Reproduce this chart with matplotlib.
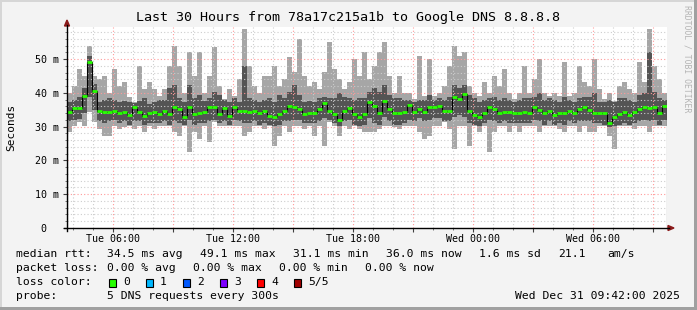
import numpy as np
import pandas as pd
import matplotlib
matplotlib.use('Agg')
import matplotlib.pyplot as plt
import matplotlib.dates as mdates
from matplotlib.patches import Rectangle, Polygon
from matplotlib.lines import Line2D

# 15 minute bins, Tue Dec 30 03:42 -> Wed Dec 31 09:42 (ms)
median = [34.4, 35.4, 35.4, 39.2, 49.1, 40.6, 34.7, 34.2, 34.4, 34.7,
          34.0, 34.4, 33.4, 35.7, 34.2, 33.2, 34.0, 34.2, 33.7, 34.7,
          33.7, 35.7, 35.2, 32.8, 35.7, 33.7, 34.0, 34.2, 35.7, 35.7,
          33.7, 35.4, 33.2, 35.7, 34.7, 34.7, 34.2, 34.7, 34.0, 34.7,
          33.2, 32.8, 33.7, 34.7, 36.2, 35.7, 35.2, 33.7, 34.0, 34.0,
          35.2, 37.0, 34.7, 33.7, 32.1, 34.7, 35.4, 33.7, 32.8, 33.7,
          37.4, 36.2, 34.0, 37.7, 35.2, 34.0, 34.0, 34.4, 36.4, 34.2,
          35.2, 34.4, 35.7, 35.7, 36.0, 34.7, 34.7, 38.7, 38.2, 39.6,
          34.7, 33.4, 32.8, 34.0, 35.7, 35.2, 34.0, 34.4, 34.2, 34.0,
          34.0, 34.4, 34.0, 35.7, 35.0, 34.0, 34.7, 33.4, 34.0, 34.0,
          34.7, 34.0, 35.2, 35.7, 35.0, 34.0, 34.0, 34.0, 31.1, 32.8,
          33.7, 34.2, 33.4, 34.4, 35.2, 35.7, 35.4, 35.7, 34.0, 36.0]

smoke_max = [40.1, 42.1, 47.0, 45.1, 54.0, 45.1, 44.1, 45.1, 40.1, 47.0,
             42.1, 43.1, 38.7, 37.2, 48.0, 41.1, 43.1, 41.1, 39.2, 41.1,
             48.0, 54.0, 48.0, 40.1, 52.0, 45.1, 52.0, 40.1, 45.1, 53.5,
             42.1, 38.2, 41.1, 39.2, 44.1, 58.9, 48.0, 42.1, 40.1, 45.1,
             45.1, 48.0, 42.1, 44.1, 50.5, 46.1, 55.9, 45.1, 42.1, 43.1,
             41.1, 46.1, 55.0, 47.0, 44.1, 41.1, 43.1, 50.0, 45.1, 52.0,
             44.1, 48.0, 52.0, 55.0, 45.1, 40.1, 45.1, 40.1, 40.1, 38.2,
             51.0, 39.2, 50.0, 39.2, 40.1, 42.1, 48.0, 54.0, 51.0, 52.0,
             42.1, 40.1, 39.2, 43.1, 40.1, 45.1, 42.1, 47.0, 40.1, 38.2,
             40.1, 48.0, 40.1, 44.1, 50.0, 40.1, 39.2, 40.1, 39.2, 49.0,
             39.2, 40.1, 48.0, 43.1, 42.1, 50.0, 41.1, 38.2, 40.1, 37.5,
             42.1, 43.1, 41.1, 40.1, 49.0, 43.1, 58.9, 48.0, 44.1, 40.1]

smoke_hi = [37.4, 37.9, 38.9, 41.3, 51.0, 42.5, 37.4, 37.9, 38.4, 37.9,
            37.4, 37.6, 37.2, 37.0, 37.6, 38.4, 36.6, 37.4, 37.9, 38.0,
            41.3, 42.3, 38.4, 37.2, 42.3, 38.4, 39.4, 37.5, 38.4, 40.4,
            39.4, 37.9, 37.4, 38.4, 37.4, 48.0, 38.4, 37.9, 37.4, 37.9,
            38.4, 37.4, 39.4, 38.4, 40.4, 42.3, 39.4, 37.4, 37.5, 37.4,
            38.4, 38.9, 38.4, 38.4, 39.9, 38.9, 38.4, 37.9, 38.4, 38.4,
            40.4, 41.3, 40.4, 42.3, 39.4, 38.4, 38.4, 37.9, 37.9, 37.4,
            37.9, 37.9, 39.4, 37.9, 38.4, 37.9, 38.9, 42.3, 41.3, 42.3,
            39.4, 38.4, 37.4, 37.9, 38.4, 38.9, 37.9, 38.4, 37.9, 37.4,
            37.9, 38.4, 38.4, 38.9, 39.9, 37.9, 38.4, 37.9, 37.4, 38.9,
            37.9, 37.4, 38.4, 38.9, 38.9, 39.9, 37.4, 37.4, 37.9, 37.4,
            38.4, 38.4, 37.9, 37.4, 39.4, 39.9, 52.0, 40.4, 38.4, 37.9]

smoke_lo = [31.6, 32.0, 32.2, 34.0, 38.9, 35.0, 31.6, 31.1, 31.6, 32.0,
            31.1, 31.6, 30.6, 31.6, 31.6, 30.6, 31.1, 31.1, 31.1, 31.6,
            30.6, 31.6, 31.1, 30.6, 32.0, 30.6, 31.1, 31.1, 31.6, 32.0,
            31.1, 31.6, 30.6, 32.0, 31.6, 31.1, 31.1, 31.6, 30.6, 31.1,
            30.6, 30.1, 30.6, 31.6, 31.6, 32.0, 32.0, 31.1, 31.1, 31.1,
            31.6, 32.5, 32.0, 31.1, 30.1, 31.6, 32.0, 30.6, 30.1, 30.6,
            32.5, 31.1, 30.6, 33.0, 31.6, 30.6, 30.6, 31.1, 32.0, 31.6,
            32.5, 31.6, 32.0, 32.5, 32.5, 31.6, 31.6, 33.0, 33.5, 33.0,
            31.1, 30.6, 30.1, 31.1, 32.0, 31.6, 31.1, 31.6, 31.1, 31.1,
            31.1, 31.1, 31.1, 32.0, 31.6, 30.6, 31.6, 30.6, 31.1, 30.6,
            31.6, 31.1, 31.6, 31.6, 31.6, 31.1, 31.1, 30.6, 29.8, 30.1,
            30.6, 31.1, 30.6, 31.1, 31.6, 32.0, 31.6, 32.0, 30.6, 32.0]

smoke_min = [28.3, 30.3, 31.3, 30.3, 34.2, 31.3, 29.3, 27.3, 27.3, 30.3,
             29.3, 29.8, 30.3, 29.3, 30.3, 28.3, 30.3, 29.3, 30.3, 30.3,
             30.3, 28.3, 27.3, 30.3, 22.4, 28.3, 26.4, 30.3, 25.4, 31.3,
             30.3, 30.3, 30.3, 30.3, 30.3, 27.3, 28.3, 30.3, 30.3, 29.3,
             30.3, 24.4, 27.3, 30.3, 28.3, 30.3, 30.3, 29.3, 30.3, 27.3,
             30.3, 24.4, 31.3, 30.3, 27.3, 30.3, 29.3, 30.3, 29.3, 28.3,
             28.3, 28.3, 29.3, 30.3, 30.3, 29.8, 29.3, 30.3, 30.3, 30.3,
             28.3, 26.4, 27.3, 30.3, 30.3, 31.3, 29.3, 23.4, 30.3, 30.3,
             24.4, 30.3, 28.3, 30.3, 22.4, 28.3, 30.3, 30.3, 28.3, 30.3,
             28.3, 30.3, 30.3, 30.3, 28.3, 30.3, 30.3, 30.3, 29.3, 28.3,
             30.3, 30.3, 28.3, 30.3, 28.3, 28.3, 30.3, 30.3, 27.3, 23.4,
             30.3, 30.3, 30.3, 29.3, 30.3, 30.3, 28.3, 30.3, 30.3, 30.3]

y_ticks = [0, 10, 20, 30, 40, 50]
y_labels = ['0  ', '10 m', '20 m', '30 m', '40 m', '50 m']
x_labels = ['Tue 06:00', '', 'Tue 12:00', '', 'Tue 18:00', '',
            'Wed 00:00', '', 'Wed 06:00', '']
loss_labels = ['0', '1', '2', '3', '4', '5/5']
loss_colors = ['#26ff00', '#00b8ff', '#0059ff', '#7e00ff', '#ff0000', '#a00000']

W, H = 697, 310
MONO = 'DejaVu Sans Mono'


def fx(x):
    return x / W


def fy(y):
    return 1 - y / H


fig = plt.figure(figsize=(W / 100, H / 100), dpi=100, facecolor='#f3f3f3')
ax = fig.add_axes([fx(67), fy(228), 600 / W, 201 / H])
ax.set_facecolor('white')

t = pd.date_range('2025-12-30 03:42', periods=len(median), freq='15min')
step = pd.Timedelta(minutes=15)
bw = 15 / 1440
smax, smin = np.array(smoke_max), np.array(smoke_min)
shi, slo = np.array(smoke_hi), np.array(smoke_lo)
med = np.array(median)

ax.bar(t, smax - smin, bottom=smin, width=bw, align='edge',
       color='#a6a6a6', linewidth=0, zorder=1)
ax.bar(t, shi - slo, bottom=slo, width=bw, align='edge',
       color='#545454', linewidth=0, zorder=1.1)
edges = mdates.date2num(list(t) + [t[-1] + step])
ax.stairs(med, edges, color='black', lw=0.8, zorder=3)
ax.hlines(med, t, t + step, color=loss_colors[0], lw=2.0, zorder=3.5)

ax.set_xlim(t[0], t[-1] + step)
ax.set_ylim(0, 59.5)

major_x = pd.date_range('2025-12-30 06:00', periods=len(x_labels), freq='3h')
ax.set_xticks(major_x)
ax.set_xticklabels(x_labels)
ax.set_xticks(pd.date_range('2025-12-30 04:00', '2025-12-31 09:00', freq='1h'),
              minor=True)
ax.set_yticks(y_ticks)
ax.set_yticklabels(y_labels)
ax.set_yticks(np.arange(0, 59, 2), minor=True)

ax.set_axisbelow(False)
ax.grid(which='major', color='#ff9a9a', linestyle=(0, (1, 2)), lw=0.8)
ax.grid(which='minor', color='#cdcdcd', linestyle=(0, (1, 2)), lw=0.8)
for s in ax.spines.values():
    s.set_visible(False)
ax.tick_params(which='major', length=3, width=0.8, color='#404040',
               labelsize=7.2, pad=3)
ax.tick_params(axis='x', which='major', pad=1)
ax.tick_params(which='minor', length=1.5, width=0.6, color='#606060')
for lab in ax.get_xticklabels() + ax.get_yticklabels():
    lab.set_family(MONO)

# axes lines and arrows
fig.add_artist(Line2D([fx(67), fx(67)], [fy(231), fy(25)], color='black', lw=1))
fig.add_artist(Line2D([fx(64), fx(669)], [fy(228), fy(228)], color='black', lw=1))
fig.add_artist(Polygon([[fx(64.5), fy(26)], [fx(69.5), fy(26)], [fx(67), fy(20)]],
                       closed=True, color='#8b1a1a', transform=fig.transFigure))
fig.add_artist(Polygon([[fx(668), fy(225.5)], [fx(668), fy(230.5)], [fx(674), fy(228)]],
                       closed=True, color='#8b1a1a', transform=fig.transFigure))

fig.text(fx(348), fy(18), 'Last 30 Hours from 78a17c215a1b to Google DNS 8.8.8.8',
         ha='center', va='center', fontsize=9.6, family=MONO)
fig.text(fx(11), fy(127), 'Seconds', rotation=90, ha='center', va='center',
         fontsize=8, family=MONO)
fig.text(fx(687), fy(59), 'RRDTOOL / TOBI OETIKER', rotation=270, ha='center',
         va='center', fontsize=5.9, family=MONO, color='#b4b4b4')

LF = 8.2
rows = [
    (254, [(16, 'median rtt:'), (107, '34.5 ms avg'), (200, '49.1 ms max'),
           (293, '31.1 ms min'), (386, '36.0 ms now'), (479, '1.6 ms sd'),
           (558, '21.1'), (607, 'am/s')]),
    (268, [(16, 'packet loss:'), (107, '0.00 % avg'), (193, '0.00 % max'),
           (279, '0.00 % min'), (365, '0.00 % now')]),
    (282, [(16, 'loss color:')]),
    (296, [(16, 'probe:'), (107, '5 DNS requests every 300s')]),
]
for y, items in rows:
    for x, s in items:
        fig.text(fx(x), fy(y), s, ha='left', va='center', fontsize=LF, family=MONO)
fig.text(fx(680), fy(296), 'Wed Dec 31 09:42:00 2025', ha='right', va='center',
         fontsize=LF, family=MONO)

for k, (lab, col) in enumerate(zip(loss_labels, loss_colors)):
    bx = 109 + 37 * k
    fig.add_artist(Rectangle((fx(bx), fy(287)), 7 / W, 8 / H, facecolor=col,
                             edgecolor='black', lw=0.8, transform=fig.transFigure))
    fig.text(fx(bx + 14), fy(282), lab, ha='left', va='center', fontsize=LF,
             family=MONO)

# 3d border
fig.add_artist(Rectangle((0, fy(2)), 1, 2 / H, color='#d6d6d6', lw=0,
                         transform=fig.transFigure))
fig.add_artist(Rectangle((0, 0), 2 / W, 1, color='#d6d6d6', lw=0,
                         transform=fig.transFigure))
fig.add_artist(Rectangle((0, 0), 1, 3 / H, color='#a0a0a0', lw=0,
                         transform=fig.transFigure))
fig.add_artist(Rectangle((fx(694), 0), 3 / W, 1, color='#a0a0a0', lw=0,
                         transform=fig.transFigure))

fig.savefig('out.png', dpi=100, facecolor=fig.get_facecolor())
